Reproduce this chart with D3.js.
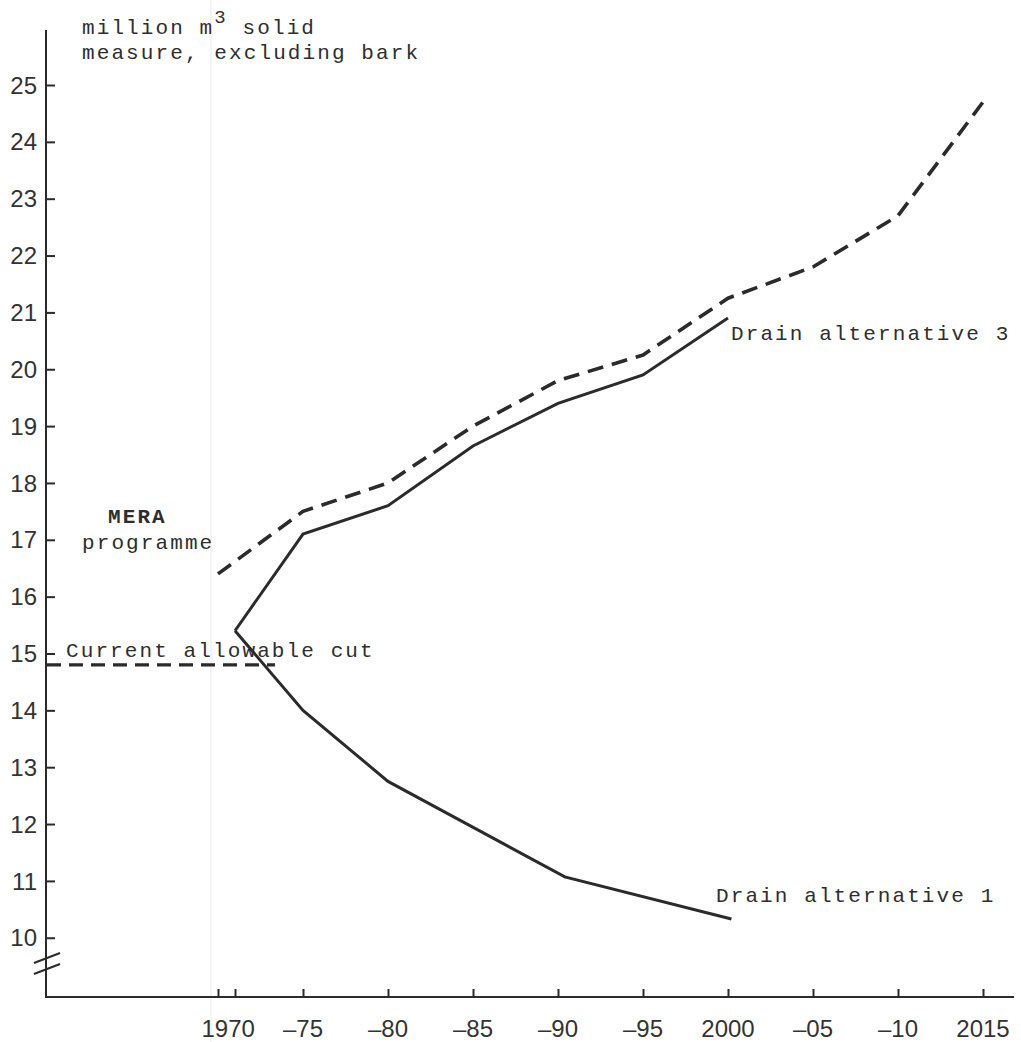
<!DOCTYPE html>
<html>
<head>
<meta charset="utf-8">
<script src="https://cdn.jsdelivr.net/npm/d3@7"></script>
<style>
  html, body { margin: 0; padding: 0; background: #fff; }
  svg { display: block; }
</style>
</head>
<body>
<script>
// Roundwood drain projections, million m3 solid measure excluding bark
const meraYears   = [1970, 1975, 1980, 1985, 1990, 1995, 2000, 2005, 2010, 2015];
const meraValues  = [16.4, 17.5, 18.0, 19.0, 19.8, 20.25, 21.25, 21.8, 22.7, 24.7];

const alt3Years   = [1971, 1975, 1980, 1985, 1990, 1995, 2000];
const alt3Values  = [15.4, 17.1, 17.6, 18.65, 19.4, 19.9, 20.9];

const alt1Years   = [1971, 1975, 1980, 1990.4, 2000.2];
const alt1Values  = [15.4, 14.0, 12.75, 11.07, 10.33];

const allowableCut = 14.8;
const allowableCutEnd = 1973.35;

const yTicks = [10, 11, 12, 13, 14, 15, 16, 17, 18, 19, 20, 21, 22, 23, 24, 25];
const xTickYears = [1970, 1971, 1975, 1980, 1985, 1990, 1995, 2000, 2005, 2010, 2015];
const xLabelYears = [1970.6, 1975, 1980, 1985, 1990, 1995, 2000, 2005, 2010, 2015];
const xLabels = ["1970", "\u201375", "\u201380", "\u201385", "\u201390", "\u201395", "2000", "\u201305", "\u201310", "2015"];

const W = 1021, H = 1042;
const ink = "#2b2b2b";
const mono = "'Liberation Mono', 'Courier New', monospace";
const sans = "'Liberation Sans', Arial, sans-serif";
const monoSize = 21, monoSpacing = 2.1;

const svg = d3.select("body").append("svg")
  .attr("width", W).attr("height", H);

const axisX = 46, axisY = 997;
const x = d3.scaleLinear().domain([1970, 2015]).range([218, 983]);
const y = d3.scaleLinear().domain([10, 25]).range([937.75, 85]);

// faint fold in the paper
svg.append("line")
  .attr("x1", 211).attr("x2", 211).attr("y1", 0).attr("y2", H)
  .attr("stroke", "#f1f1f1").attr("stroke-width", 1.5);

// y axis
const yAxis = d3.axisRight(y).tickValues(yTicks).tickSize(9).tickFormat("");
const gy = svg.append("g").attr("transform", `translate(${axisX},0)`).call(yAxis);
gy.select(".domain").remove();
gy.selectAll(".tick line").attr("stroke", ink).attr("stroke-width", 2);
svg.append("line")
  .attr("x1", axisX).attr("x2", axisX).attr("y1", 30).attr("y2", axisY + 1)
  .attr("stroke", ink).attr("stroke-width", 2);

svg.append("g").selectAll("text").data(yTicks).join("text")
  .attr("x", 37).attr("y", d => y(d)).attr("dy", "0.36em")
  .attr("text-anchor", "end")
  .attr("font-family", sans).attr("font-size", 24).attr("fill", "#333")
  .text(d => d);

// axis break marks
[[34, 963, 60, 953], [34, 974, 60, 964]].forEach(([a, b, c, d]) => {
  svg.append("line").attr("x1", a).attr("y1", b).attr("x2", c).attr("y2", d)
    .attr("stroke", ink).attr("stroke-width", 2);
});

// x axis
const xAxis = d3.axisTop(x).tickValues(xTickYears).tickSize(8).tickFormat("");
const gx = svg.append("g").attr("transform", `translate(0,${axisY})`).call(xAxis);
gx.select(".domain").remove();
gx.selectAll(".tick line").attr("stroke", ink).attr("stroke-width", 2);
svg.append("line")
  .attr("x1", axisX - 1).attr("x2", 1014).attr("y1", axisY).attr("y2", axisY)
  .attr("stroke", ink).attr("stroke-width", 2.2);

svg.append("g").selectAll("text").data(xLabelYears).join("text")
  .attr("x", d => x(d)).attr("y", 1037)
  .attr("text-anchor", "middle")
  .attr("font-family", sans).attr("font-size", 24).attr("fill", "#333")
  .text((d, i) => xLabels[i]);

// series
const line = d3.line().x(d => x(d[0])).y(d => y(d[1]));

svg.append("path")
  .datum(meraYears.map((t, i) => [t, meraValues[i]]))
  .attr("d", line).attr("fill", "none")
  .attr("stroke", ink).attr("stroke-width", 3.6)
  .attr("stroke-dasharray", "16 9");

svg.append("path")
  .datum(alt3Years.map((t, i) => [t, alt3Values[i]]))
  .attr("d", line).attr("fill", "none")
  .attr("stroke", ink).attr("stroke-width", 3).attr("stroke-linejoin", "miter");

svg.append("path")
  .datum(alt1Years.map((t, i) => [t, alt1Values[i]]))
  .attr("d", line).attr("fill", "none")
  .attr("stroke", ink).attr("stroke-width", 3).attr("stroke-linejoin", "miter");

svg.append("line")
  .attr("x1", axisX + 1).attr("x2", x(allowableCutEnd))
  .attr("y1", y(allowableCut)).attr("y2", y(allowableCut))
  .attr("stroke", ink).attr("stroke-width", 3.4)
  .attr("stroke-dasharray", "14 8");

// labels
const label = (tx, ty, s, weight) => svg.append("text")
  .attr("x", tx).attr("y", ty)
  .attr("font-family", mono).attr("font-size", monoSize)
  .attr("letter-spacing", monoSpacing)
  .attr("font-weight", weight || "normal")
  .attr("fill", "#2e2e2e").text(s);

const unit = svg.append("text")
  .attr("x", 82).attr("y", 34)
  .attr("font-family", mono).attr("font-size", monoSize)
  .attr("letter-spacing", monoSpacing).attr("fill", "#2e2e2e");
unit.append("tspan").text("million m");
unit.append("tspan").attr("dy", -11).attr("font-size", 19).text("3");
unit.append("tspan").attr("dy", 11).text(" solid");
label(82, 59, "measure, excluding bark");

label(108, 523, "MERA", "bold");
label(82, 549, "programme");
label(66, 657, "Current allowable cut");
label(731, 340, "Drain alternative 3");
label(716, 902, "Drain alternative 1");
</script>
</body>
</html>
